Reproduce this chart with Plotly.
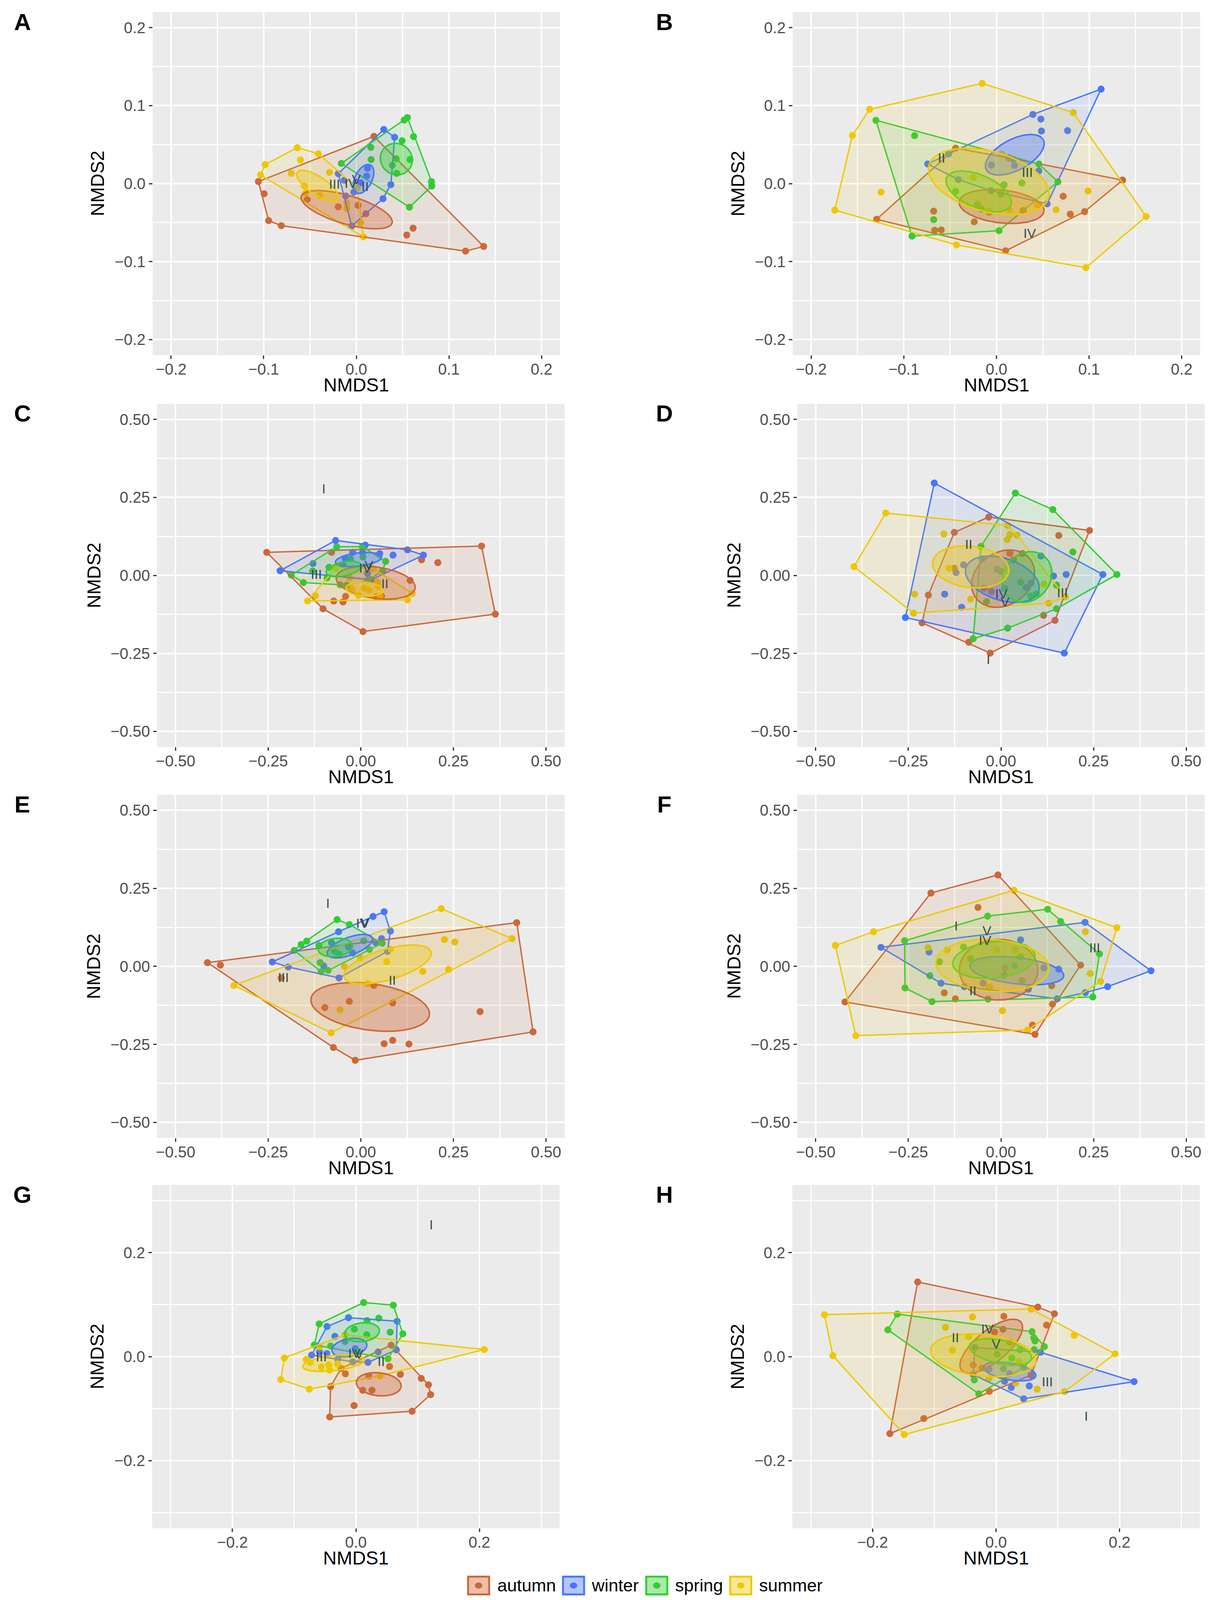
import numpy as np
import plotly.graph_objects as go

# NMDS ordinations, eight panels, four seasons each
seasons = ["autumn", "winter", "spring", "summer"]
season_colors = {"autumn": "#CD6839", "winter": "#4876FF",
                 "spring": "#32CD32", "summer": "#EEC900"}

# ---- panel A ----
A_autumn = [(0.019, 0.0606), (-0.1057, 0.0027), (-0.0947, -0.0474), (-0.081, -0.0539), (0.118, -0.0865),
            (0.1375, -0.0805), (-0.0995, -0.013), (-0.053, -0.0206), (-0.0195, -0.0297), (0.0018, -0.0278),
            (0.0103, -0.0386), (0.0613, -0.0571), (0.0545, -0.0659)]
A_winter = [(0.0297, 0.0695), (0.0414, 0.0595), (0.0373, -0.0013), (0.0288, -0.0193), (-0.005, -0.0543),
            (-0.0195, 0.0127), (0.0121, 0.0196), (0.0112, 0.0096), (0.0048, 0.0011), (-0.013, 0.0043),
            (-0.0027, -0.0109), (-0.0114, -0.0158)]
A_spring = [(0.0552, 0.0847), (0.0517, 0.0815), (0.0618, 0.0603), (0.0812, 0.0027), (0.0815, -0.0032),
            (0.0574, -0.0302), (-0.0162, 0.0259), (0.0156, 0.0465), (0.0494, 0.055), (0.016, 0.0309),
            (0.043, 0.032), (0.0579, 0.0309), (0.0389, 0.0236), (0.0435, 0.0132)]
A_summer = [(-0.0638, 0.0461), (-0.041, 0.0384), (0.0011, -0.0053), (0.0076, -0.0683), (-0.1034, 0.0111),
            (-0.0984, 0.0244), (-0.0604, 0.0304), (-0.0703, 0.0132), (-0.029, 0.0145), (-0.056, -0.0029),
            (-0.0547, -0.0122), (-0.0394, -0.015), (-0.0103, -0.025), (-0.0103, -0.0318), (0.0048, -0.0503)]
A_ellipse = {"autumn": (-0.0104, -0.0334, 0.052, 0.018, -20), "winter": (0.0078, 0.006, 0.0195, 0.0095, 70),
             "spring": (0.0432, 0.0314, 0.0203, 0.0172, 100), "summer": (-0.0417, -0.0029, 0.028, 0.011, -40)}
A_labels = [("III", -0.0235, -0.002), ("IV", -0.006, -0.001), ("V", 0.0, 0.004), ("II", 0.0095, -0.005)]

# ---- panel B ----
B_autumn = [(-0.0441, 0.0455), (0.1362, 0.0045), (0.0952, -0.0359), (0.0099, -0.0861), (-0.1294, -0.0457),
            (0.0133, 0.033), (0.072, -0.0162), (0.0797, -0.0391), (-0.024, -0.0489), (-0.0678, -0.0353),
            (-0.0667, -0.0598), (-0.0596, -0.0594), (-0.0079, -0.0363), (0.0288, -0.0344)]
B_winter = [(0.113, 0.1212), (0.0548, -0.0259), (-0.0743, 0.0252), (0.0393, 0.0887), (0.048, 0.0827),
            (0.0486, 0.0675), (0.0768, 0.068), (0.0181, 0.0308), (-0.0056, 0.0239), (0.0195, 0.0233),
            (0.0458, 0.0164), (-0.0412, 0.0051), (0.0082, -0.0015), (-0.0059, -0.009), (-0.0517, 0.038)]
B_spring = [(-0.1302, 0.0812), (0.0458, 0.0252), (0.0664, 0.0023), (0.0028, -0.0603), (-0.0912, -0.0673),
            (-0.0884, 0.0615), (-0.0441, -0.01), (0.0274, 0.0008), (0.0076, -0.0019), (0.0048, -0.0137),
            (-0.0206, -0.0269), (-0.0164, -0.0325), (-0.0678, -0.0461)]
B_summer = [(-0.0155, 0.1286), (0.083, 0.091), (0.1616, -0.0421), (0.0966, -0.1077), (-0.0432, -0.0786),
            (-0.1746, -0.034), (-0.1556, 0.0618), (-0.137, 0.0953), (-0.1246, -0.0109), (0.0989, -0.0094),
            (0.0644, -0.0335), (0.0056, 0.038), (-0.0249, 0.0079), (0.0138, -0.0335), (0.0444, -0.0278),
            (-0.0085, -0.0353)]
B_ellipse = {"autumn": (0.0055, -0.0293, 0.0462, 0.021, -8), "winter": (0.0198, 0.037, 0.0364, 0.019, 35),
             "spring": (-0.0192, -0.01, 0.039, 0.0203, -30), "summer": (-0.0083, 0.0027, 0.068, 0.038, -20)}
B_labels = [("II", -0.0593, 0.0314), ("III", 0.0333, 0.0126), ("IV", 0.0359, -0.0654)]

# ---- panel C ----
C_autumn = [(-0.254, 0.074), (0.326, 0.094), (0.363, -0.124), (0.006, -0.180), (-0.102, -0.107),
            (-0.079, 0.074), (0.164, 0.050), (0.208, 0.041), (0.133, -0.016), (-0.041, -0.067),
            (-0.073, -0.082), (-0.048, -0.085), (0.042, -0.068), (0.056, -0.067), (-0.024, -0.045)]
C_winter = [(-0.068, 0.112), (0.012, 0.097), (0.126, 0.082), (0.169, 0.065), (0.028, -0.014),
            (-0.218, 0.015), (-0.129, 0.038), (-0.042, 0.054), (-0.022, 0.074), (0.005, 0.073),
            (0.051, 0.070), (0.087, 0.065), (0.018, 0.006), (-0.048, 0.033)]
C_spring = [(-0.065, 0.092), (0.004, 0.092), (0.067, 0.045), (0.059, 0.014), (-0.056, -0.030),
            (-0.155, -0.023), (-0.188, 0.001), (-0.028, 0.053), (0.006, 0.059), (-0.086, 0.026),
            (-0.130, 0.014), (-0.091, -0.008), (-0.038, -0.031), (0.019, -0.016)]
C_summer = [(-0.068, 0.024), (0.033, 0.022), (0.139, -0.058), (0.126, -0.078), (-0.144, -0.082),
            (-0.123, -0.065), (-0.023, -0.046), (0.009, -0.041), (0.023, -0.047), (0.045, -0.021),
            (0.047, -0.035), (0.052, -0.067), (-0.006, -0.064), (-0.030, -0.007)]
C_ellipse = {"autumn": (0.0403, -0.0235, 0.108, 0.05, -10), "winter": (-0.0059, 0.051, 0.063, 0.021, 8),
             "spring": (-0.0459, 0.0205, 0.049, 0.022, 15), "summer": (0.0101, -0.0442, 0.051, 0.022, -5)}
C_labels = [("I", -0.100, 0.274), ("III", -0.120, 0.0), ("IV", 0.012, 0.02), ("V", 0.022, 0.028),
            ("II", 0.065, -0.031)]

# ---- panel D ----
D_autumn = [(-0.033, 0.187), (0.239, 0.144), (0.146, -0.144), (-0.029, -0.249), (-0.087, -0.214),
            (-0.213, -0.152), (-0.126, 0.138), (0.156, 0.128), (0.024, 0.071), (0.058, 0.070),
            (0.034, 0.050), (-0.126, 0.023), (-0.196, -0.063), (-0.045, -0.041), (-0.026, -0.052),
            (0.115, -0.128)]
D_winter = [(-0.180, 0.296), (0.275, 0.003), (0.171, -0.249), (-0.258, -0.135), (-0.101, 0.034),
            (-0.121, 0.009), (-0.152, -0.060), (-0.106, -0.102), (-0.051, 0.053), (0.142, -0.002),
            (0.176, 0.003), (0.108, 0.062), (0.081, -0.025), (0.068, -0.039), (0.010, -0.042)]
D_spring = [(0.039, 0.264), (0.140, 0.211), (0.313, 0.003), (0.150, -0.107), (0.018, -0.169),
            (-0.075, -0.203), (-0.054, 0.093), (0.194, 0.075), (0.150, -0.031), (0.053, -0.022),
            (-0.010, 0.019), (0.0, 0.013), (0.096, -0.059), (0.080, -0.066), (-0.039, -0.084)]
D_summer = [(-0.311, 0.200), (0.018, 0.160), (0.174, -0.069), (0.129, -0.089), (-0.236, -0.121),
            (-0.397, 0.028), (-0.154, 0.133), (0.024, 0.131), (0.043, 0.129), (0.017, 0.115),
            (-0.140, 0.023), (-0.233, -0.060), (-0.082, -0.076), (0.116, -0.028)]
D_ellipse = {"autumn": (0.0058, -0.0104, 0.098, 0.078, 55), "winter": (0.0038, -0.0124, 0.1056, 0.0656, -25),
             "spring": (0.07, -0.0053, 0.0833, 0.0651, 70), "summer": (-0.0817, 0.0272, 0.104, 0.066, -10)}
D_labels = [("II", -0.087, 0.096), ("IV", 0.001, -0.063), ("V", 0.011, -0.089), ("III", 0.166, -0.060),
            ("I", -0.034, -0.273)]

# ---- panel E ----
E_autumn = [(-0.414, 0.012), (0.421, 0.140), (0.465, -0.210), (-0.015, -0.301), (-0.074, -0.260),
            (-0.379, 0.004), (-0.215, -0.037), (-0.031, -0.112), (-0.097, -0.132), (0.035, -0.061),
            (0.086, -0.117), (0.322, -0.145), (0.063, -0.248), (0.086, -0.237), (0.130, -0.249)]
E_winter = [(0.063, 0.175), (0.033, 0.160), (0.080, 0.113), (0.072, 0.048), (-0.059, -0.037),
            (-0.239, 0.014), (-0.060, 0.111), (-0.196, -0.002), (-0.100, 0.001), (-0.079, 0.076),
            (-0.033, 0.062), (0.040, 0.076), (0.056, 0.089), (-0.022, 0.043)]
E_spring = [(-0.064, 0.150), (-0.031, 0.134), (0.058, 0.074), (0.023, 0.054), (-0.088, -0.013),
            (-0.107, -0.017), (-0.180, 0.051), (-0.161, 0.070), (-0.146, 0.081), (-0.113, 0.067),
            (-0.110, 0.012), (0.008, 0.082), (-0.072, 0.049), (-0.059, 0.040)]
E_summer = [(0.217, 0.185), (0.408, 0.089), (0.237, -0.010), (-0.080, -0.213), (-0.343, -0.061),
            (0.226, 0.086), (0.254, 0.078), (0.080, 0.056), (0.070, 0.015), (0.167, -0.016),
            (-0.001, 0.027), (-0.044, -0.001), (0.019, -0.055), (-0.056, -0.139)]
E_ellipse = {"autumn": (0.0253, -0.13, 0.162, 0.074, -10), "winter": (-0.0294, 0.0646, 0.0665, 0.0277, 25),
             "spring": (-0.0688, 0.0604, 0.047, 0.029, 10), "summer": (0.0722, 0.0061, 0.1243, 0.0485, 20)}
E_labels = [("I", -0.089, 0.198), ("IV", 0.004, 0.134), ("V", 0.012, 0.136), ("III", -0.209, -0.039),
            ("II", 0.085, -0.048)]

# ---- panel F ----
F_autumn = [(-0.008, 0.293), (0.215, 0.004), (0.139, -0.121), (0.092, -0.218), (-0.421, -0.114),
            (-0.189, 0.235), (-0.062, 0.189), (-0.153, -0.085), (-0.123, -0.104), (-0.031, -0.067),
            (0.137, -0.062), (0.085, -0.188), (0.011, -0.006)]
F_winter = [(0.227, 0.141), (0.405, -0.014), (0.288, -0.065), (0.152, -0.104), (-0.162, -0.054),
            (-0.324, 0.061), (-0.194, 0.046), (0.053, 0.085), (0.116, -0.005), (0.156, -0.009),
            (0.074, -0.073), (0.228, -0.084), (0.009, -0.028), (-0.099, -0.065), (-0.048, -0.054)]
F_spring = [(0.126, 0.183), (0.161, 0.144), (0.266, 0.040), (0.248, -0.098), (-0.035, -0.105),
            (-0.186, -0.113), (-0.259, -0.069), (-0.260, 0.082), (-0.036, 0.161), (-0.101, 0.062),
            (-0.082, 0.025), (-0.166, 0.015), (-0.192, -0.030), (0.038, 0.053), (0.053, 0.031),
            (0.037, 0.002), (0.057, -0.046)]
F_summer = [(0.035, 0.244), (0.313, 0.124), (0.269, -0.048), (0.072, -0.204), (-0.392, -0.222),
            (-0.447, 0.067), (-0.344, 0.111), (-0.197, 0.060), (-0.145, 0.053), (-0.011, 0.053),
            (0.038, 0.054), (0.228, 0.111), (0.241, -0.023), (0.004, -0.142), (-0.030, -0.067)]
F_ellipse = {"autumn": (-0.0062, -0.0108, 0.106, 0.097, 0), "winter": (0.0427, -0.014, 0.128, 0.042, -8),
             "spring": (-0.0189, 0.0207, 0.112, 0.058, 8), "summer": (-0.0229, 0.0025, 0.153, 0.083, -5)}
F_labels = [("I", -0.121, 0.126), ("V", -0.038, 0.110), ("IV", -0.043, 0.079), ("III", 0.253, 0.056),
            ("II", -0.076, -0.082)]

# ---- panel G ----
G_autumn = [(0.057, 0.022), (0.1058, -0.0418), (0.1175, -0.054), (0.121, -0.073), (0.091, -0.105),
            (-0.0425, -0.116), (-0.041, -0.0575), (-0.024, -0.0225), (-0.017, -0.033), (0.0545, -0.019),
            (0.072, -0.034), (0.021, -0.037), (0.011, -0.0645), (0.026, -0.0645), (-0.003, -0.094)]
G_winter = [(-0.012, 0.075), (0.0668, 0.068), (0.0655, 0.013), (0.0195, -0.011), (-0.0718, 0.003),
            (-0.0468, 0.058), (-0.034, 0.039), (-0.059, 0.009), (-0.047, 0.006), (-0.001, 0.0155),
            (0.036, 0.009), (-0.0295, -0.005), (-0.005, -0.010)]
G_spring = [(0.0125, 0.104), (0.0605, 0.099), (0.076, 0.044), (0.052, -0.004), (-0.0675, 0.0225),
            (-0.0595, 0.063), (0.037, 0.074), (0.018, 0.0695), (-0.0025, 0.053), (0.0175, 0.042),
            (0.0555, 0.047), (-0.041, 0.0205), (-0.0175, 0.029), (0.003, 0.009)]
G_summer = [(0.208, 0.0138), (-0.0755, -0.0625), (-0.1218, -0.044), (-0.116, -0.0025), (-0.018, 0.042),
            (-0.0805, -0.0055), (-0.074, -0.011), (-0.056, -0.020), (-0.044, -0.016), (-0.0425, -0.026),
            (-0.030, -0.014), (-0.059, 0.019), (0.039, -0.037)]
G_ellipse = {"autumn": (0.0369, -0.0531, 0.0366, 0.022, -8), "winter": (-0.0106, 0.0175, 0.029, 0.017, 15),
             "spring": (0.0099, 0.0469, 0.0285, 0.018, 10), "summer": (-0.0362, -0.0125, 0.0504, 0.0145, 8)}
G_labels = [("III", -0.056, -0.003), ("IV", -0.0025, 0.004), ("V", 0.005, 0.0025), ("II", 0.041, -0.012),
            ("I", 0.122, 0.251)]

# ---- panel H ----
H_autumn = [(-0.127, 0.1436), (0.0676, 0.0953), (0.0945, 0.0825), (0.0567, -0.0356), (-0.0109, -0.0665),
            (-0.117, -0.119), (-0.172, -0.148), (0.0127, 0.0775), (0.0818, 0.0607), (-0.0025, 0.0473),
            (0.0113, 0.0527), (0.0222, 0.028), (-0.0225, -0.0218), (-0.037, -0.016)]
H_winter = [(0.072, 0.0084), (0.2236, -0.048), (0.0447, -0.0811), (-0.0345, 0.0175), (-0.037, -0.0345),
            (-0.0116, -0.0244), (0.0218, -0.0327), (0.0138, -0.0473), (0.0247, -0.0593), (0.0538, -0.0564)]
H_spring = [(-0.16, 0.0818), (0.0582, 0.048), (0.0782, 0.0193), (-0.028, -0.0716), (-0.1753, 0.0516),
            (0.0611, 0.0364), (0.0629, 0.0302), (0.0618, 0.0135), (0.0385, 0.0127), (0.0018, 0.0047),
            (0.0255, -0.0029), (0.012, -0.0229), (0.0447, -0.0207), (-0.0353, -0.0447)]
H_summer = [(-0.278, 0.0807), (0.0567, 0.0916), (0.1927, 0.0055), (0.1113, -0.0673), (-0.1487, -0.1498),
            (-0.2644, 0.0018), (-0.0382, 0.0764), (-0.0818, 0.0564), (-0.0444, 0.0382), (-0.0705, 0.0127),
            (0.1265, 0.0411), (0.0367, -0.0098), (0.032, -0.0509), (0.0665, -0.0625), (-0.0116, -0.0418)]
H_ellipse = {"autumn": (-0.0078, 0.02, 0.067, 0.028, 46), "winter": (0.022, -0.0285, 0.0433, 0.016, -12),
             "spring": (0.0071, 0.009, 0.0518, 0.0225, -15), "summer": (-0.0207, 0.0024, 0.086, 0.04, -8)}
H_labels = [("IV", -0.014, 0.051), ("II", -0.066, 0.0345), ("V", 0.0, 0.0218), ("III", 0.083, -0.051),
            ("I", 0.146, -0.117)]

# axis scales: (half range, major ticks, minor grid, tick format)
small_axis = (0.22, [-0.2, -0.1, 0.0, 0.1, 0.2], [-0.15, -0.05, 0.05, 0.15], ".1f")
wide_axis = (0.55, [-0.5, -0.25, 0.0, 0.25, 0.5], [-0.375, -0.125, 0.125, 0.375], ".2f")
mid_axis = (0.33, [-0.2, 0.0, 0.2], [-0.3, -0.1, 0.1, 0.3], ".1f")

panels = [
    ("A", [A_autumn, A_winter, A_spring, A_summer], A_ellipse, A_labels, small_axis),
    ("B", [B_autumn, B_winter, B_spring, B_summer], B_ellipse, B_labels, small_axis),
    ("C", [C_autumn, C_winter, C_spring, C_summer], C_ellipse, C_labels, wide_axis),
    ("D", [D_autumn, D_winter, D_spring, D_summer], D_ellipse, D_labels, wide_axis),
    ("E", [E_autumn, E_winter, E_spring, E_summer], E_ellipse, E_labels, wide_axis),
    ("F", [F_autumn, F_winter, F_spring, F_summer], F_ellipse, F_labels, wide_axis),
    ("G", [G_autumn, G_winter, G_spring, G_summer], G_ellipse, G_labels, mid_axis),
    ("H", [H_autumn, H_winter, H_spring, H_summer], H_ellipse, H_labels, mid_axis),
]

# layout is planned on the 3115 x 4862 reference page, stored as paper fractions
W, H = 3115, 4862
FONT = "Liberation Sans, Arial, sans-serif"

panel_left = {"A": 390.5, "B": 2029, "C": 402, "D": 2040.5, "E": 402, "F": 2040.5, "G": 389.5, "H": 2028}
row_top = [36.5, 1227, 2415, 3601]
SIDE = 1043


def hex_rgba(h, a):
    h = h.lstrip("#")
    return "rgba(%d,%d,%d,%.3f)" % (int(h[0:2], 16), int(h[2:4], 16), int(h[4:6], 16), a)


def convex_hull(pts):
    pts = sorted(set(pts))

    def cross(o, a, b):
        return (a[0] - o[0]) * (b[1] - o[1]) - (a[1] - o[1]) * (b[0] - o[0])

    lower, upper = [], []
    for p in pts:
        while len(lower) >= 2 and cross(lower[-2], lower[-1], p) <= 0:
            lower.pop()
        lower.append(p)
    for p in reversed(pts):
        while len(upper) >= 2 and cross(upper[-2], upper[-1], p) <= 0:
            upper.pop()
        upper.append(p)
    h = lower[:-1] + upper[:-1]
    return h + [h[0]]


def ellipse_path(cx, cy, a, b, ang, n=120):
    t = np.linspace(0, 2 * np.pi, n)
    th = np.radians(ang)
    x = cx + a * np.cos(t) * np.cos(th) - b * np.sin(t) * np.sin(th)
    y = cy + a * np.cos(t) * np.sin(th) + b * np.sin(t) * np.cos(th)
    return x, y


def note(text, x, y, size, **kw):
    d = dict(text=text, x=x / W, y=1 - y / H, xref="paper", yref="paper", showarrow=False,
             xanchor="center", yanchor="middle", font=dict(family=FONT, size=size, color="black"))
    d.update(kw)
    return d


fig = go.Figure()
layout_axes = {}
annotations = []

for i, (letter, groups, ells, labels, axis) in enumerate(panels):
    n = i + 1
    xr = "x" if n == 1 else "x%d" % n
    yr = "y" if n == 1 else "y%d" % n
    half, major, minor, fmt = axis

    # points
    for s, pts in zip(seasons, groups):
        fig.add_trace(go.Scatter(x=[p[0] for p in pts], y=[p[1] for p in pts], mode="markers",
                                 marker=dict(size=18, color=season_colors[s]),
                                 xaxis=xr, yaxis=yr, showlegend=False, hoverinfo="skip"))
    # convex hulls
    for s, pts in zip(seasons, groups):
        hull = convex_hull(pts)
        fig.add_trace(go.Scatter(x=[p[0] for p in hull], y=[p[1] for p in hull], mode="lines",
                                 fill="toself", fillcolor=hex_rgba(season_colors[s], 0.1),
                                 line=dict(color=season_colors[s], width=3.5),
                                 xaxis=xr, yaxis=yr, showlegend=False, hoverinfo="skip"))
    # ellipses
    for s in seasons:
        ex, ey = ellipse_path(*ells[s])
        fig.add_trace(go.Scatter(x=ex, y=ey, mode="lines", fill="toself",
                                 fillcolor=hex_rgba(season_colors[s], 0.35),
                                 line=dict(color=season_colors[s], width=4),
                                 xaxis=xr, yaxis=yr, showlegend=False, hoverinfo="skip"))
    # site labels
    fig.add_trace(go.Scatter(x=[l[1] for l in labels], y=[l[2] for l in labels],
                             text=[l[0] for l in labels], mode="text",
                             textfont=dict(family=FONT, size=34, color="#2F4F4F"),
                             xaxis=xr, yaxis=yr, showlegend=False, hoverinfo="skip"))

    left = panel_left[letter]
    top = row_top[i // 2]
    xdom = [left / W, (left + SIDE) / W]
    ydom = [1 - (top + SIDE) / H, 1 - top / H]
    common = dict(range=[-half, half], tickmode="array", tickvals=major, tickformat=fmt,
                  showgrid=True, gridcolor="white", gridwidth=4, zeroline=False, showline=False,
                  ticks="outside", ticklen=9, tickwidth=3, tickcolor="#333333",
                  tickfont=dict(family=FONT, size=40, color="#4D4D4D"),
                  minor=dict(tickvals=minor, showgrid=True, gridcolor="white", gridwidth=2.5, ticks=""),
                  automargin=False, fixedrange=True)
    layout_axes["xaxis" if n == 1 else "xaxis%d" % n] = dict(domain=xdom, anchor=yr,
                                                             ticklabelstandoff=-8, **common)
    layout_axes["yaxis" if n == 1 else "yaxis%d" % n] = dict(domain=ydom, anchor=xr, **common)

    # panel letter and axis titles
    letter_x = 57 if i % 2 == 0 else 1700
    annotations.append(note("<b>%s</b>" % letter, letter_x, top + 30, 60))
    annotations.append(note("NMDS1", left + SIDE / 2, top + SIDE + 90, 48))
    ytitle_off = 162 if axis is wide_axis else 141
    annotations.append(note("NMDS2", left - ytitle_off, top + SIDE / 2, 48, textangle=-90))

# legend drawn as keys in the bottom strip
shapes = []
key_left = [1198, 1441, 1654, 1869]
text_left = [1271, 1512, 1726, 1941]
key_top, key_size = 4791, 54
for s, kx, tx in zip(seasons, key_left, text_left):
    c = season_colors[s]
    shapes.append(dict(type="rect", xref="paper", yref="paper",
                       x0=kx / W, x1=(kx + key_size) / W,
                       y0=1 - (key_top + key_size) / H, y1=1 - key_top / H,
                       fillcolor=hex_rgba(c, 0.42), line=dict(color=c, width=5)))
    cx, cy = kx + key_size / 2, key_top + key_size / 2
    shapes.append(dict(type="circle", xref="paper", yref="paper",
                       x0=(cx - 9.5) / W, x1=(cx + 9.5) / W,
                       y0=1 - (cy + 9.5) / H, y1=1 - (cy - 9.5) / H,
                       fillcolor=c, line=dict(width=0)))
    annotations.append(note(s, tx, cy, 45, xanchor="left"))

fig.update_layout(autosize=True,
                  margin=dict(l=0, r=0, t=0, b=0),
                  paper_bgcolor="white", plot_bgcolor="#EBEBEB",
                  showlegend=False, annotations=annotations, shapes=shapes,
                  font=dict(family=FONT), **layout_axes)

# the figure fills the browser window exactly (no page margin, no mode bar)
fig.write_html("out.html", default_width="100%", default_height="100vh",
               config={"displayModeBar": False, "responsive": True},
               post_script="document.body.style.margin='0px';"
                           "Plotly.Plots.resize(document.getElementById('{plot_id}'));")
